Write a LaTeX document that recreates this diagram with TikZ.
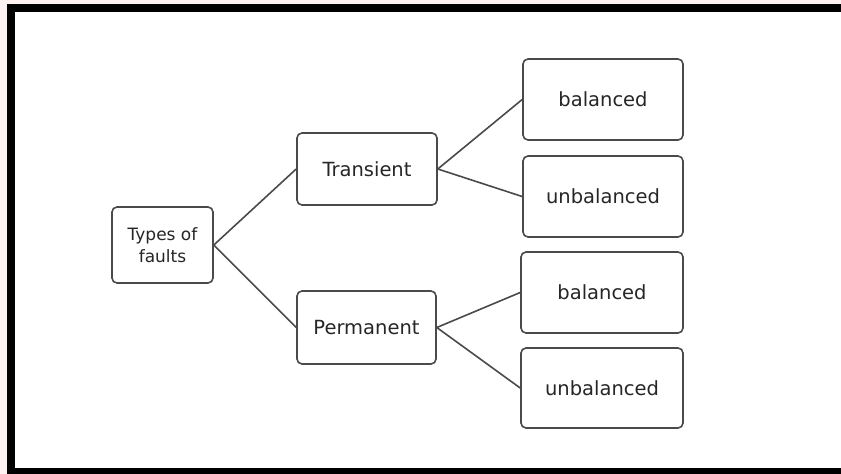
\documentclass[tikz,border=0pt]{standalone}
\usepackage{fontspec}
\setmainfont{DejaVu Sans}
\definecolor{edgegray}{HTML}{4A4A4A}
\definecolor{bgpink}{HTML}{FDF1F1}
\begin{document}
\begin{tikzpicture}[x=1pt,y=-1pt,
  box/.style={draw=edgegray, line width=1.6pt, rounded corners=5pt, fill=white,
    inner sep=0pt, align=center, text=black!85, font=\fontsize{19.5}{22}\selectfont},
  link/.style={draw=edgegray, line width=1.6pt}]
\useasboundingbox (0,0) rectangle (841,474);
\fill[bgpink] (0,0) rectangle (841,474);
\fill[white] (15,12) rectangle (841,468);
\fill[black] (7,4) rectangle (841,12);
\fill[black] (7,4) rectangle (15,474);
\fill[black] (7,468) rectangle (841,474);
\node[box, minimum width=101pt, minimum height=76pt, font=\fontsize{17}{22}\selectfont] (types) at (162.5,245) {Types of\\faults};
\node[box, minimum width=140pt, minimum height=72pt] (trans) at (367,169) {Transient};
\node[box, minimum width=139pt, minimum height=73pt] (perm) at (366.5,327.5) {Permanent};
\node[box, minimum width=160pt, minimum height=81pt] (b1) at (603,99.5) {balanced};
\node[box, minimum width=160pt, minimum height=81pt] (u1) at (603,196.5) {unbalanced};
\node[box, minimum width=162pt, minimum height=81pt] (b2) at (602,292.5) {balanced};
\node[box, minimum width=162pt, minimum height=80pt] (u2) at (602,388) {unbalanced};
\draw[link] (types.east) -- (trans.west);
\draw[link] (types.east) -- (perm.west);
\draw[link] (trans.east) -- (b1.west);
\draw[link] (trans.east) -- (u1.west);
\draw[link] (perm.east) -- (b2.west);
\draw[link] (perm.east) -- (u2.west);
\end{tikzpicture}
\end{document}
